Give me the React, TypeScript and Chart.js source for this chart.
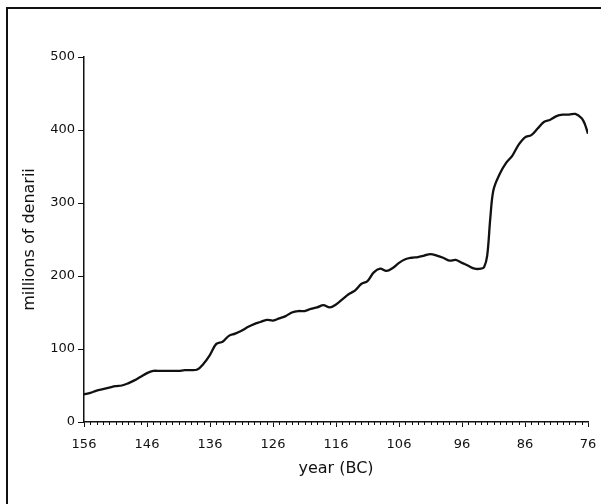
import React, { useEffect, useRef } from "react";
import { Chart, registerables } from "chart.js";

Chart.register(...registerables);

const years: number[] = [
  156, 155, 154, 153, 152, 151, 150, 149, 148, 147, 146, 145, 144, 143, 142, 141,
  140, 139, 138, 137, 136, 135, 134, 133, 132, 131, 130, 129, 128, 127, 126, 125,
  124, 123, 122, 121, 120, 119, 118, 117, 116, 115, 114, 113, 112, 111, 110, 109,
  108, 107, 106, 105, 104, 103, 102, 101, 100, 99, 98, 97, 96, 95, 94, 93, 92.5,
  92, 91.5, 91, 90, 89, 88, 87, 86, 85, 84, 83, 82, 81, 80, 79, 78, 77, 76.5, 76,
];
const denarii: number[] = [
  38, 40, 43, 45, 47, 49, 50, 53, 57, 62, 67, 70, 70, 70, 70, 70,
  71, 71, 72, 80, 92, 107, 110, 118, 121, 125, 130, 134, 137, 140, 139, 142,
  145, 150, 152, 152, 155, 157, 160, 157, 161, 168, 175, 180, 189, 193, 205, 210,
  207, 211, 218, 223, 225, 226, 228, 230, 228, 225, 221, 222, 218, 214, 210, 210, 212,
  228, 280, 318, 340, 355, 365, 380, 390, 393, 402, 411, 414, 419, 421, 421, 422, 416, 408, 395,
];
const yTicks: number[] = [0, 100, 200, 300, 400, 500];
const xMin = 76;
const xMax = 156;

const FONT = "'DejaVu Sans', sans-serif";

const minorTicks = {
  id: "minorTicks",
  afterDraw(chart: any) {
    const xs = chart.scales.x;
    const ctx = chart.ctx;
    ctx.save();
    ctx.strokeStyle = "#111";
    ctx.lineWidth = 1;
    for (let yr = xMin; yr <= xMax; yr++) {
      if ((yr - xMin) % 10 === 0) continue;
      const px = Math.round(xs.getPixelForValue(yr)) + 0.5;
      ctx.beginPath();
      ctx.moveTo(px, xs.top);
      ctx.lineTo(px, xs.top + 3);
      ctx.stroke();
    }
    ctx.restore();
  },
};

export default function App() {
  const ref = useRef<HTMLCanvasElement | null>(null);
  useEffect(() => {
    document.body.style.margin = "0";
    const canvas = ref.current;
    if (!canvas) return;
    const chart = new Chart(canvas, {
      type: "line",
      data: {
        datasets: [
          {
            data: years.map((x, i) => ({ x, y: denarii[i] })),
            borderColor: "#111",
            borderWidth: 2.3,
            pointRadius: 0,
            tension: 0.35,
            fill: false,
          },
        ],
      },
      options: {
        animation: false,
        responsive: false,
        layout: { padding: { top: 57, right: 13, left: 0, bottom: 0 } },
        plugins: { legend: { display: false }, tooltip: { enabled: false } },
        scales: {
          x: {
            type: "linear",
            reverse: true,
            min: xMin,
            max: xMax,
            afterFit: (s: any) => {
              s.height = 82;
              s.paddingLeft = 0;
              s.paddingRight = 0;
            },
            ticks: {
              stepSize: 10,
              color: "#111",
              font: { family: FONT, size: 13 },
              padding: 10,
              maxRotation: 0,
            },
            grid: {
              drawOnChartArea: false,
              drawTicks: true,
              tickLength: 5,
              color: "#111",
              lineWidth: 1,
            },
            border: { display: true, color: "#111", width: 1.5 },
            title: {
              display: true,
              text: "year (BC)",
              color: "#111",
              font: { family: FONT, size: 16 },
              padding: { top: 4, bottom: 26 },
            },
          },
          y: {
            min: 0,
            max: 500,
            afterFit: (s: any) => {
              s.width = 84;
            },
            afterBuildTicks: (s: any) => {
              s.ticks = yTicks.map((v) => ({ value: v }));
            },
            ticks: {
              color: "#111",
              font: { family: FONT, size: 13 },
              padding: 3,
            },
            grid: {
              drawOnChartArea: false,
              drawTicks: true,
              tickLength: 6,
              color: "#111",
              lineWidth: 1,
            },
            border: { display: true, color: "#111", width: 1.5 },
            title: {
              display: true,
              text: "millions of denarii",
              color: "#111",
              font: { family: FONT, size: 16 },
              padding: { top: 20, bottom: 0 },
            },
          },
        },
      },
      plugins: [minorTicks],
    });
    return () => chart.destroy();
  }, []);
  return (
    <div style={{ position: "relative", width: 601, height: 504, overflow: "hidden", background: "#fff" }}>
      <canvas ref={ref} width={601} height={504} style={{ position: "absolute", left: 0, top: 0, width: 601, height: 504 }} />
      <div
        style={{
          position: "absolute",
          left: 6,
          top: 7,
          width: 700,
          height: 600,
          borderLeft: "2px solid #111",
          borderTop: "2px solid #111",
          pointerEvents: "none",
        }}
      />
    </div>
  );
}
